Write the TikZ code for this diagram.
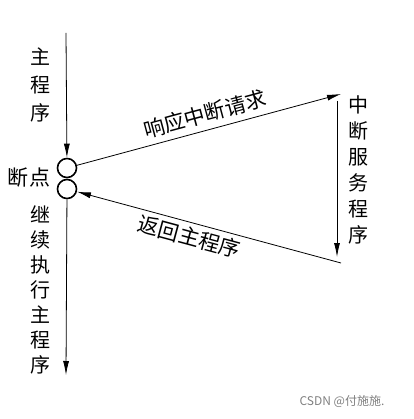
\documentclass[tikz,border=0pt]{standalone}
\usepackage{fontspec}
\newfontfamily\cjk{Noto Sans CJK SC}
\usetikzlibrary{arrows.meta}

\tikzset{
    flow/.style = {draw=black, line width=0.8pt, -{Latex[length=14pt,width=6pt]}},
    link/.style = {draw=black, line width=0.8pt},
    bpoint/.style = {circle, draw=black, line width=1.6pt, minimum size=19pt, inner sep=0pt},
    vlabel/.style = {font={\cjk\fontsize{20}{26}\selectfont}, align=center, inner sep=0pt, black},
    hlabel/.style = {font={\cjk\fontsize{21}{24}\selectfont}, inner sep=1pt, black},
}

\begin{document}
\begin{tikzpicture}[x=1pt, y=-1pt]
        \useasboundingbox (0, 0) rectangle (413, 419);
        % break points
        \node[bpoint] (bpa) at (67, 168) {};
        \node[bpoint] (bpb) at (67, 189) {};
        \coordinate (mtop) at (66, 33);
        \coordinate (mend) at (66, 375);
        \coordinate (isrin) at (341, 94);
        \coordinate (isrtop) at (337, 101);
        \coordinate (isrend) at (337, 257);
        \coordinate (isrout) at (341, 263);
        % main program
        \draw[flow] (mtop) -- (bpa);
        \draw[flow] (bpb) -- (mend);
        % interrupt
        \draw[flow] (bpa) -- node[hlabel, sloped, above=5pt] (req) {响应中断请求} (isrin);
        \draw[flow] (isrtop) -- (isrend);
        \draw[flow] (isrout) -- node[hlabel, sloped, below=3pt, pos=0.56] (ret) {返回主程序} (bpb);
        % labels
        \node[vlabel, font={\cjk\fontsize{20}{28}\selectfont}] (mainlbl) at (40, 85) {主\\程\\序};
        \node[hlabel] (bplbl) at (29, 178) {断点};
        \node[vlabel, font={\cjk\fontsize{20}{25}\selectfont}] (contlbl) at (40, 290) {继\\续\\执\\行\\主\\程\\序};
        \node[vlabel] (isrlbl) at (358, 170) {中\\断\\服\\务\\程\\序};
        \node[font={\cjk\fontsize{12}{14}\selectfont}, gray] (mark) at (342, 401) {CSDN @付施施.};
    \end{tikzpicture}
\end{document}
